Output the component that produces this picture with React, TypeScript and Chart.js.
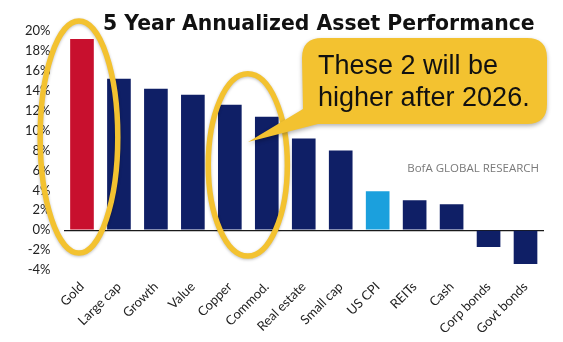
import React, { useEffect, useRef } from "react";
import { Chart, registerables } from "chart.js";

Chart.register(...registerables);

const categories = ["Gold", "Large cap", "Growth", "Value", "Copper", "Commod.", "Real estate", "Small cap", "US CPI", "REITs", "Cash", "Corp bonds", "Govt bonds"];
const returns = [19.2, 15.2, 14.2, 13.6, 12.6, 11.4, 9.2, 8.0, 3.9, 3.0, 2.6, -1.7, -3.4];
const barColors = ["#C8102E", "#0F1F66", "#0F1F66", "#0F1F66", "#0F1F66", "#0F1F66", "#0F1F66", "#0F1F66", "#1BA0DD", "#0F1F66", "#0F1F66", "#0F1F66", "#0F1F66"];
const yMin = -4;
const yMax = 20;
const titleText = "5 Year Annualized Asset Performance";
const calloutLines = ["These 2 will be", "higher after 2026."];
const sourceText = "BofA GLOBAL RESEARCH";

const YELLOW = "#F3C230";

const overlayPlugin = {
  id: "overlay",
  afterDraw(chart: any) {
    const ctx = chart.ctx;
    const xs = chart.scales.x;
    const ys = chart.scales.y;
    const cw = xs.getPixelForValue(1) - xs.getPixelForValue(0);

    // Title
    ctx.save();
    let size = 24;
    ctx.font = `bold ${size}px "DejaVu Sans"`;
    const w = ctx.measureText(titleText).width;
    size = size * 432 / w;
    ctx.font = `bold ${size}px "DejaVu Sans"`;
    ctx.fillStyle = "#111";
    ctx.textBaseline = "alphabetic";
    ctx.textAlign = "left";
    ctx.fillText(titleText, 103, 30);
    ctx.restore();

    // Source
    ctx.save();
    ctx.font = '11.5px "Open Sans"';
    ctx.fillStyle = "#7a7a7a";
    ctx.textAlign = "right";
    ctx.textBaseline = "middle";
    ctx.fillText(sourceText, 539, 169);
    ctx.restore();

    // Ellipses
    const drawEllipse = (cx: number, top: number, bottom: number, rx: number) => {
      ctx.save();
      ctx.shadowColor = "rgba(0,0,0,0.25)";
      ctx.shadowBlur = 3;
      ctx.shadowOffsetY = 1;
      ctx.strokeStyle = YELLOW;
      ctx.lineWidth = 5.5;
      ctx.beginPath();
      ctx.ellipse(cx, (top + bottom) / 2, rx, (bottom - top) / 2, 0, 0, Math.PI * 2);
      ctx.stroke();
      ctx.restore();
    };
    drawEllipse(xs.getPixelForValue(0) - 3, ys.getPixelForValue(21.0), ys.getPixelForValue(-2.3), cw * 1.05);
    drawEllipse((xs.getPixelForValue(4) + xs.getPixelForValue(5)) / 2 - 0.5, ys.getPixelForValue(15.7), ys.getPixelForValue(-2.6), cw * 1.07);

    // Callout
    ctx.save();
    ctx.shadowColor = "rgba(0,0,0,0.3)";
    ctx.shadowBlur = 4;
    ctx.shadowOffsetY = 2;
    ctx.fillStyle = YELLOW;
    const rx0 = 302, ry0 = 38, rw = 245, rh = 86, r = 20;
    ctx.beginPath();
    ctx.moveTo(rx0 + r, ry0);
    ctx.lineTo(rx0 + rw - r, ry0);
    ctx.quadraticCurveTo(rx0 + rw, ry0, rx0 + rw, ry0 + r);
    ctx.lineTo(rx0 + rw, ry0 + rh - r);
    ctx.quadraticCurveTo(rx0 + rw, ry0 + rh, rx0 + rw - r, ry0 + rh);
    ctx.lineTo(318, ry0 + rh);
    ctx.lineTo(248, 142);
    ctx.lineTo(rx0 + 1, 109);
    ctx.lineTo(rx0, ry0 + r);
    ctx.quadraticCurveTo(rx0, ry0, rx0 + r, ry0);
    ctx.closePath();
    ctx.fill();
    ctx.restore();

    ctx.save();
    ctx.fillStyle = "#111";
    ctx.font = '27px "Liberation Sans"';
    ctx.textAlign = "left";
    ctx.textBaseline = "alphabetic";
    ctx.fillText(calloutLines[0], 318, 74);
    ctx.fillText(calloutLines[1], 318, 106);
    ctx.restore();
  },
};

export default function App() {
  const ref = useRef<HTMLCanvasElement>(null);
  useEffect(() => {
    if (!ref.current) return;
    const chart = new Chart(ref.current, {
      type: "bar",
      data: {
        labels: categories,
        datasets: [
          {
            data: returns,
            backgroundColor: barColors,
            categoryPercentage: 1,
            barPercentage: 0.64,
          },
        ],
      },
      options: {
        animation: false,
        responsive: false,
        layout: { padding: { top: 31, right: 19, left: 0, bottom: 0 } },
        plugins: { legend: { display: false }, tooltip: { enabled: false }, title: { display: false } },
        scales: {
          x: {
            grid: { display: false },
            border: { display: false },
            ticks: {
              minRotation: 45,
              maxRotation: 45,
              color: "#222",
              font: { family: "Lato", size: 13 },
              padding: 1,
            },
            afterFit(scale: any) {
              scale.height = 72;
            },
          },
          y: {
            min: yMin,
            max: yMax,
            border: { display: false },
            grid: {
              drawTicks: false,
              color: (c: any) => (c.tick && c.tick.value === 0 ? "#1a1a1a" : "rgba(0,0,0,0)"),
              lineWidth: 1.3,
            },
            ticks: {
              stepSize: 2,
              color: "#222",
              font: { family: "Lato", size: 13 },
              padding: 13,
              callback: (v: any) => `${v}%`,
            },
            afterFit(scale: any) {
              scale.width = 63.5;
            },
          },
        },
      },
      plugins: [
        {
          id: "bg",
          beforeDraw(c: any) {
            const ctx = c.ctx;
            ctx.save();
            ctx.fillStyle = "#fff";
            ctx.fillRect(0, 0, c.width, c.height);
            ctx.restore();
          },
        },
        overlayPlugin,
      ],
    });
    return () => chart.destroy();
  }, []);
  return (
    <div style={{ position: "fixed", left: 0, top: 0, width: 563, height: 342, background: "#fff" }}>
      <canvas ref={ref} width={563} height={342} style={{ width: 563, height: 342, display: "block" }} />
    </div>
  );
}
